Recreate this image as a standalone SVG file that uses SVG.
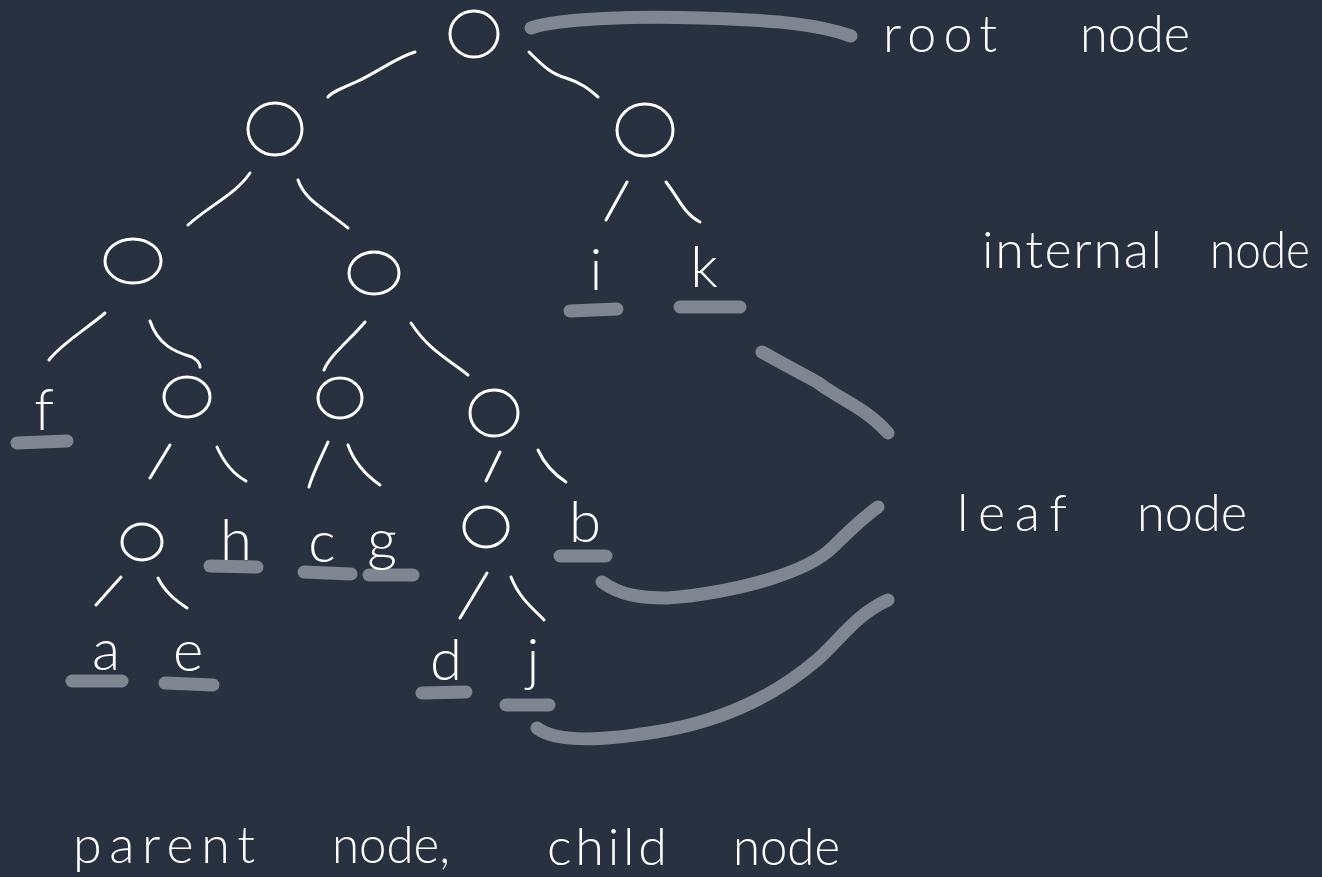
<svg xmlns="http://www.w3.org/2000/svg" width="1322" height="877" viewBox="0 0 1322 877">
<style>
.bg{fill:#283140}
.edge{fill:none;stroke:#ffffff;stroke-width:3;stroke-linecap:round;stroke-linejoin:round}
.circ{fill:none;stroke:#ffffff;stroke-width:3}
.hl{fill:none;stroke:#7f868f;stroke-width:13;stroke-linecap:round;stroke-linejoin:round}
.lbl{fill:#ffffff;font-family:"Lato","Liberation Sans",sans-serif;font-weight:300}
.leaf{font-size:58px;text-anchor:middle}
.note{font-size:52px}
</style>
<rect class="bg" x="0" y="0" width="1322" height="877"/>

<g id="connectors">
  <path class="edge" d="M415,52 C395,58 378,72 356,82 C342,88 332,92 328,97"/>
  <path class="edge" d="M529,52 C545,68 552,74 566,78 C585,84 592,92 598,97"/>
  <path class="edge" d="M250,173 C235,195 210,205 188,225"/>
  <path class="edge" d="M298,180 C305,200 322,207 348,228"/>
  <path class="edge" d="M627,182 L606,220"/>
  <path class="edge" d="M666,182 C680,200 684,214 700,222"/>
  <path class="edge" d="M105,313 C85,330 60,345 49,360"/>
  <path class="edge" d="M150,321 C158,345 175,352 192,357 C199,361 200,364 200,367"/>
  <path class="edge" d="M365,322 C350,340 330,355 324,370"/>
  <path class="edge" d="M411,323 C430,352 450,360 468,375"/>
  <path class="edge" d="M170,445 L150,478"/>
  <path class="edge" d="M217,447 C225,465 235,475 246,481"/>
  <path class="edge" d="M328,442 C320,460 312,475 309,487"/>
  <path class="edge" d="M348,445 C355,465 370,478 380,485"/>
  <path class="edge" d="M500,452 L486,481"/>
  <path class="edge" d="M538,450 C545,465 555,475 566,482"/>
  <path class="edge" d="M121,577 L96,605"/>
  <path class="edge" d="M158,578 C165,592 175,600 187,608"/>
  <path class="edge" d="M487,573 L460,618"/>
  <path class="edge" d="M511,577 C520,600 535,610 544,620"/>
</g>

<g id="highlights">
  <path class="hl" d="M531,28 C560,18 640,16 700,18 C780,20 820,25 851,36"/>
  <path class="hl" d="M762,352 C790,368 805,375 817,382 C825,388 830,391 835,394 C850,403 870,413 888,433"/>
  <path class="hl" d="M602,582 C620,595 640,598 667,598 C700,596 740,588 767,580 C800,570 820,560 833,547 C845,535 860,520 878,507"/>
  <path class="hl" d="M537,728 C555,742 600,742 667,730 C720,720 770,700 817,660 C840,640 855,615 888,600"/>
  <path class="hl" d="M570,311 L617,309"/>
  <path class="hl" d="M680,307 L740,307"/>
  <path class="hl" d="M17,443 L67,441"/>
  <path class="hl" d="M210,566 L257,567"/>
  <path class="hl" d="M304,572 L351,574"/>
  <path class="hl" d="M369,575 L413,575"/>
  <path class="hl" d="M560,556 L606,556"/>
  <path class="hl" d="M72,681 L122,681"/>
  <path class="hl" d="M165,683 L213,685"/>
  <path class="hl" d="M422,693 L466,692"/>
  <path class="hl" d="M506,705 L549,705"/>
</g>

<g id="node-root"><ellipse class="circ" cx="474" cy="34" rx="24" ry="23"/></g>
<g id="node-l1a"><ellipse class="circ" cx="275" cy="129" rx="27" ry="26"/></g>
<g id="node-l1b"><ellipse class="circ" cx="645" cy="130" rx="28" ry="26"/></g>
<g id="node-l2a"><ellipse class="circ" cx="133" cy="261" rx="28" ry="22"/></g>
<g id="node-l2b"><ellipse class="circ" cx="374" cy="273" rx="25" ry="21"/></g>
<g id="node-l3a"><ellipse class="circ" cx="187" cy="397" rx="23" ry="20"/></g>
<g id="node-l3b"><ellipse class="circ" cx="340" cy="398" rx="22" ry="20"/></g>
<g id="node-l3c"><ellipse class="circ" cx="494" cy="413" rx="24" ry="23"/></g>
<g id="node-l4a"><ellipse class="circ" cx="142" cy="542" rx="20" ry="18"/></g>
<g id="node-l4b"><ellipse class="circ" cx="486" cy="527" rx="22" ry="20"/></g>

<g id="leaf-i"><text class="lbl leaf" x="596" y="290">i</text></g>
<g id="leaf-k"><text class="lbl leaf" x="704" y="287">k</text></g>
<g id="leaf-f"><text class="lbl leaf" x="44" y="430">f</text></g>
<g id="leaf-h"><text class="lbl leaf" x="236" y="560">h</text></g>
<g id="leaf-c"><text class="lbl leaf" x="322" y="562">c</text></g>
<g id="leaf-g"><text class="lbl leaf" x="382" y="560">g</text></g>
<g id="leaf-b"><text class="lbl leaf" x="585" y="542">b</text></g>
<g id="leaf-a"><text class="lbl leaf" x="106" y="670">a</text></g>
<g id="leaf-e"><text class="lbl leaf" x="188" y="671">e</text></g>
<g id="leaf-d"><text class="lbl leaf" x="446" y="680">d</text></g>
<g id="leaf-j"><text class="lbl leaf" x="533" y="680">j</text></g>

<g id="labels">
  <text class="lbl note" x="883" y="52" textLength="114" lengthAdjust="spacing">root</text>
  <text class="lbl note" x="1080" y="52" textLength="110" lengthAdjust="spacingAndGlyphs">node</text>
  <text class="lbl note" x="982" y="268" textLength="180" lengthAdjust="spacing">internal</text>
  <text class="lbl note" x="1210" y="268" textLength="100" lengthAdjust="spacingAndGlyphs">node</text>
  <text class="lbl note" x="957" y="531" textLength="110" lengthAdjust="spacing">leaf</text>
  <text class="lbl note" x="1137" y="531" textLength="110" lengthAdjust="spacingAndGlyphs">node</text>
  <text class="lbl note" x="73" y="863" textLength="182" lengthAdjust="spacing">parent</text>
  <text class="lbl note" x="332" y="863" textLength="118" lengthAdjust="spacingAndGlyphs">node,</text>
  <text class="lbl note" x="547" y="865" textLength="120" lengthAdjust="spacing">child</text>
  <text class="lbl note" x="733" y="865" textLength="107" lengthAdjust="spacingAndGlyphs">node</text>
</g>
</svg>
